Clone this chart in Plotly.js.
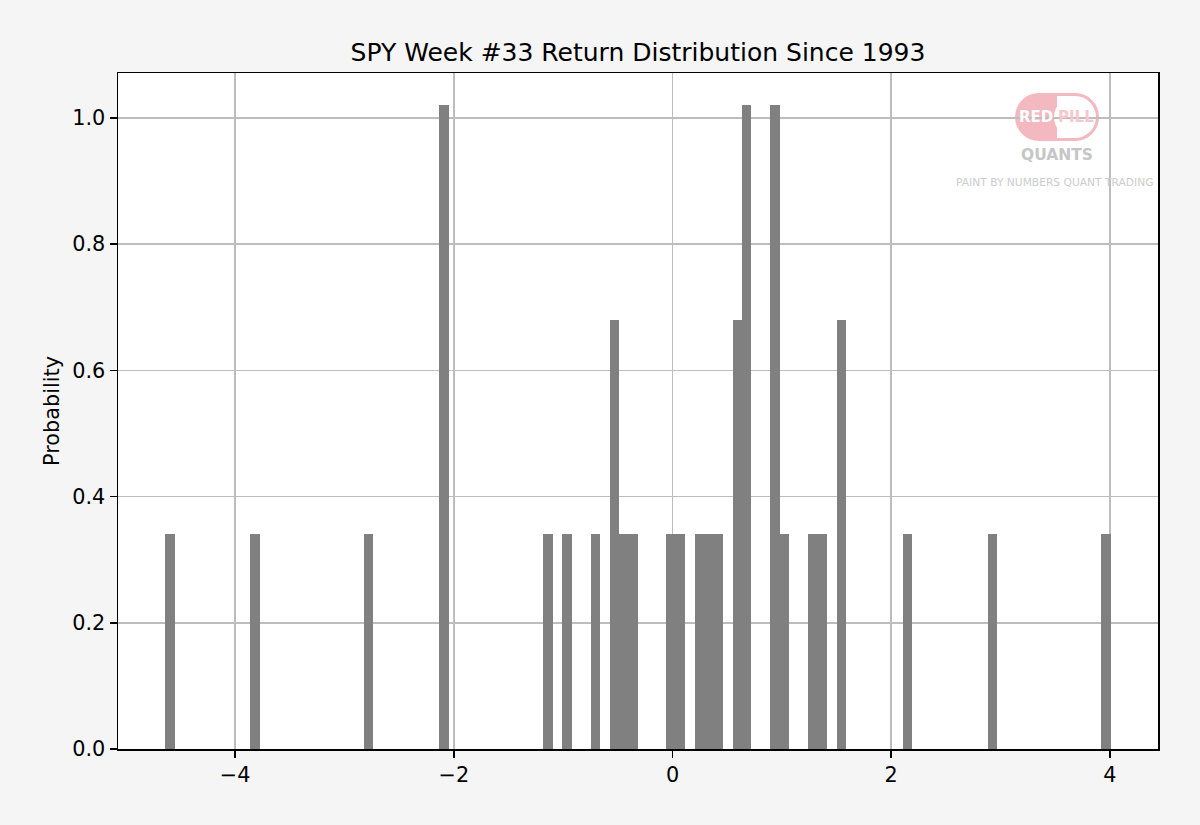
<!DOCTYPE html>
<html>
<head>
<meta charset="utf-8">
<script src="https://cdn.plot.ly/plotly-3.0.1.min.js"></script>
<style>
  html, body { margin: 0; padding: 0; background: #f5f5f5; }
  #chart { width: 1200px; height: 825px; }
</style>
</head>
<body>
<div id="chart"></div>
<script>
// weekly returns (%) of SPY in week #33
const weekReturns = [
  -4.60, -3.82, -2.78, -2.11, -2.09, -2.06, -1.14, -0.96, -0.70,
  -0.55, -0.51, -0.45, -0.36, -0.01, 0.07, 0.25, 0.33, 0.42,
  0.58, 0.61, 0.66, 0.68, 0.70, 0.92, 0.94, 0.96, 1.03,
  1.28, 1.37, 1.53, 1.56, 2.15, 2.93, 3.97
];

// histogram bins (100 bins between min and max)
const binStart = -4.640;
const binEnd = 4.009;
const binSize = 0.08649;

const xTicks = [-4, -2, 0, 2, 4];
const yTicks = [0, 0.2, 0.4, 0.6, 0.8, 1.0];

const font = 'DejaVu Sans, sans-serif';
const pink = '#f4b8c0';

// logo anchor in paper coords
const lx = 0.9029, ly = 0.9349;

const trace = {
  x: weekReturns,
  type: 'histogram',
  histnorm: 'probability density',
  xbins: {start: binStart, end: binEnd, size: binSize},
  autobinx: false,
  marker: {color: '#808080', line: {width: 0}},
  hoverinfo: 'x+y'
};

const pillShape = (type, x0, x1, y0, y1, color) => ({
  type: type,
  xref: 'paper', yref: 'paper',
  xsizemode: 'pixel', ysizemode: 'pixel',
  xanchor: lx, yanchor: ly,
  x0: x0, x1: x1, y0: y0, y1: y1,
  fillcolor: color,
  line: {width: 0},
  layer: 'below'
});

const axisStyle = {
  ticks: 'outside', ticklen: 7, tickwidth: 1.5, tickcolor: '#000',
  showline: true, linecolor: '#000', linewidth: 1.5, mirror: true,
  showgrid: true, gridcolor: '#bdbdbd', gridwidth: 1.5,
  zeroline: false,
  tickfont: {family: font, size: 20.8, color: '#000'}
};

const layout = {
  width: 1200,
  height: 825,
  margin: {l: 118, r: 42, t: 73, b: 76},
  paper_bgcolor: '#f5f5f5',
  plot_bgcolor: '#ffffff',
  bargap: 0,
  showlegend: false,
  font: {family: font, size: 20.8, color: '#000'},
  title: {
    text: 'SPY Week #33 Return Distribution Since 1993',
    font: {family: font, size: 25, color: '#000'},
    xref: 'paper', x: 0.5, xanchor: 'center',
    yref: 'container', y: 1 - 52 / 825, yanchor: 'middle'
  },
  xaxis: Object.assign({range: [-5.072, 4.441], tickvals: xTicks}, axisStyle),
  yaxis: Object.assign({range: [0, 1.0712], tickvals: yTicks, tickformat: '.1f'}, axisStyle),
  shapes: [
    pillShape('circle', -42, 6, -24, 24, pink),
    pillShape('circle', -6, 42, -24, 24, pink),
    pillShape('rect', -18, 18, -24, 24, pink),
    pillShape('circle', -3, 39, -21, 21, '#ffffff'),
    pillShape('rect', 0, 18, -21, 21, '#ffffff')
  ],
  annotations: [
    {
      text: 'Probability', textangle: -90,
      xref: 'paper', yref: 'paper', x: (52 - 118) / 1040, y: 0.5,
      xanchor: 'center', yanchor: 'middle', showarrow: false,
      font: {family: font, size: 20.8, color: '#000'}
    },
    {
      text: '<b>RED</b>', xref: 'paper', yref: 'paper', x: (1036 - 118) / 1040, y: ly,
      xanchor: 'center', yanchor: 'middle', showarrow: false,
      font: {family: font, size: 15, color: '#ffffff'}
    },
    {
      text: '<b>PILL</b>', xref: 'paper', yref: 'paper', x: (1076 - 118) / 1040, y: ly,
      xanchor: 'center', yanchor: 'middle', showarrow: false,
      font: {family: font, size: 15, color: '#f6c8ce'}
    },
    {
      text: '<b>QUANTS</b>', xref: 'paper', yref: 'paper', x: lx, y: (749 - 155) / 676,
      xanchor: 'center', yanchor: 'middle', showarrow: false,
      font: {family: font, size: 15.5, color: '#c6c6c6'}
    },
    {
      text: 'PAINT BY NUMBERS QUANT TRADING', xref: 'paper', yref: 'paper',
      x: (1055 - 118) / 1040, y: (749 - 182) / 676,
      xanchor: 'center', yanchor: 'middle', showarrow: false,
      font: {family: font, size: 10.7, color: '#cccccc'}
    }
  ]
};

Plotly.newPlot('chart', [trace], layout, {displayModeBar: false, staticPlot: true});
</script>
</body>
</html>
